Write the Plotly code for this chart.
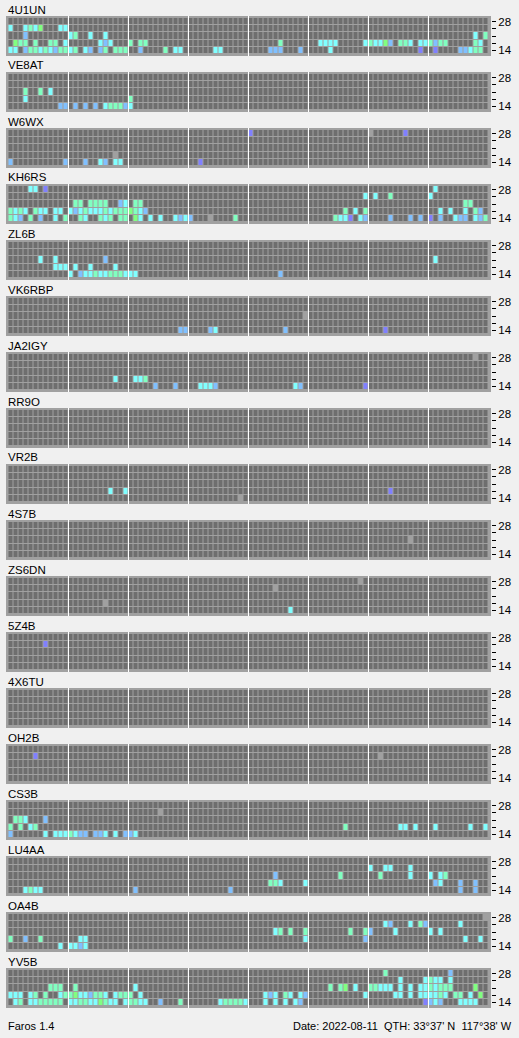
import plotly.graph_objects as go

W, H = 519, 1038

STATIONS = ["4U1UN", "VE8AT", "W6WX", "KH6RS", "ZL6B", "VK6RBP", "JA2IGY", "RR9O", "VR2B",
            "4S7B", "ZS6DN", "5Z4B", "4X6TU", "OH2B", "CS3B", "LU4AA", "OA4B", "YV5B"]
BANDS = [28, 24, 21, 18, 14]          # rows, top to bottom
BAND_TICKS = ["28", "", "", "", "14"]

# one char per 15-min slot, 96 slots a day, written in groups of 12 (3 hours)
# . none  g weak/grey  p violet  b blue  c cyan  a aqua  G green
LEVELS = [".", "g", "p", "b", "c", "a", "G"]
LEVEL_COLORS = ["#6e6e6e", "#a0a0a0", "#8080ff", "#80c0ff", "#80ffff", "#80ffc0", "#80ff80"]

D = "............"

GRID_4U1UN = [
    f"{D} {D} {D} {D} {D} {D} {D} {D}",
    f"c..cacG...cc {D} {D} {D} {D} {D} {D} {D}",
    f"...b........ ca..c..c.... {D} {D} {D} {D} {D} .........c.a",
    f".Gaa.a..aa.c ......cbc... a.aa........ {D} ......a..... ..cccc.....c accGb.aac.cc abaa.....ac.",
    "cc.baacacbaa ca.cb.ba.aaa ..b....a.cc. .....cc..... ....bbb...b. ....c....... ..........p. .p....bbcaa.",
]
GRID_VE8AT = [
    f"{D} {D} {D} {D} {D} {D} {D} {D}",
    f"{D} {D} {D} {D} {D} {D} {D} {D}",
    f"...a..a.c... {D} {D} {D} {D} {D} {D} {D}",
    f"...c........ {D} a........... {D} {D} {D} {D} {D}",
    f"..........bb .b.b.b.caaab c........... {D} {D} {D} {D} {D}",
]
GRID_W6WX = [
    f"{D} {D} {D} {D} p........... {D} g......p.... {D}",
    f"{D} {D} {D} {D} {D} {D} {D} {D}",
    f"{D} {D} {D} {D} {D} {D} {D} {D}",
    f"{D} .........g.. {D} {D} {D} {D} {D} {D}",
    f"b..........b ...b..cb.cc. {D} ..p......... {D} {D} {D} {D}",
]
GRID_KH6RS = [
    f"....cc.p.... {D} {D} {D} {D} {D} {D} .c..........",
    f"{D} {D} {D} {D} {D} ...........c .c..a....... c...........",
    f"{D} .aa.aaaa..bc .aa......... {D} {D} {D} {D} .......aa...",
    f"acac.acc.cc. cbcacccacaaa Gacb........ {D} {D} .......a.c.a {D} ..c.c..c.ab.",
    f"acb.a.b..c.a ..ac..aca.aa .Gc.c.c..cbc b...g....a.. {D} .....accp.cb ....b...b.b. p.b..cbb.cba",
]
GRID_ZL6B = [
    f"{D} {D} {D} {D} {D} {D} {D} {D}",
    f"{D} {D} {D} {D} {D} {D} {D} {D}",
    f"......c..c.. .......b.... {D} {D} {D} {D} {D} .c..........",
    f".........ccc .c..c....c.. {D} {D} {D} {D} {D} {D}",
    f"{D} c.bccaccaaac cc.......... {D} ......b..... {D} {D} {D}",
]
GRID_VK6RBP = [
    f"{D} {D} {D} {D} {D} {D} {D} {D}",
    f"{D} {D} {D} {D} {D} {D} {D} {D}",
    f"{D} {D} {D} {D} ...........g {D} {D} {D}",
    f"{D} {D} {D} {D} {D} {D} {D} {D}",
    f"{D} {D} ..........bb ....bc...... .......b.... {D} ...p........ {D}",
]
GRID_JA2IGY = [
    f"{D} {D} {D} {D} {D} {D} {D} .........g..",
    f"{D} {D} {D} {D} {D} {D} {D} {D}",
    f"{D} {D} {D} {D} {D} {D} {D} {D}",
    f"{D} .........c.. .cca........ {D} {D} {D} {D} {D}",
    f"{D} {D} .....b...b.. ..cccb...... .........cb. ...........p {D} {D}",
]
GRID_RR9O = [
    f"{D} {D} {D} {D} {D} {D} {D} {D}",
    f"{D} {D} {D} {D} {D} {D} {D} {D}",
    f"{D} {D} {D} {D} {D} {D} {D} {D}",
    f"{D} {D} {D} {D} {D} {D} {D} {D}",
    f"{D} {D} {D} {D} {D} {D} {D} {D}",
]
GRID_VR2B = [
    f"{D} {D} {D} {D} {D} {D} {D} {D}",
    f"{D} {D} {D} {D} {D} {D} {D} {D}",
    f"{D} {D} {D} {D} {D} {D} {D} {D}",
    f"{D} ........c..c {D} {D} {D} {D} ....p....... {D}",
    f"{D} {D} {D} ..........g. {D} {D} {D} {D}",
]
GRID_4S7B = [
    f"{D} {D} {D} {D} {D} {D} {D} {D}",
    f"{D} {D} {D} {D} {D} {D} {D} {D}",
    f"{D} {D} {D} {D} {D} {D} ........g... {D}",
    f"{D} {D} {D} {D} {D} {D} {D} {D}",
    f"{D} {D} {D} {D} {D} {D} {D} {D}",
]
GRID_ZS6DN = [
    f"{D} {D} {D} {D} {D} ..........g. {D} {D}",
    f"{D} {D} {D} {D} .....g...... {D} {D} {D}",
    f"{D} {D} {D} {D} {D} {D} {D} {D}",
    f"{D} .......g.... {D} {D} {D} {D} {D} {D}",
    f"{D} {D} {D} {D} ........c... {D} {D} {D}",
]
GRID_5Z4B = [
    f"{D} {D} {D} {D} {D} {D} {D} {D}",
    f".......p.... {D} {D} {D} {D} {D} {D} {D}",
    f"{D} {D} {D} {D} {D} {D} {D} {D}",
    f"{D} {D} {D} {D} {D} {D} {D} {D}",
    f"{D} {D} {D} {D} {D} {D} {D} {D}",
]
GRID_4X6TU = [
    f"{D} {D} {D} {D} {D} {D} {D} {D}",
    f"{D} {D} {D} {D} {D} {D} {D} {D}",
    f"{D} {D} {D} {D} {D} {D} {D} {D}",
    f"{D} {D} {D} {D} {D} {D} {D} {D}",
    f"{D} {D} {D} {D} {D} {D} {D} {D}",
]
GRID_OH2B = [
    f"{D} {D} {D} {D} {D} {D} {D} {D}",
    f".....p...... {D} {D} {D} {D} {D} ..g......... {D}",
    f"{D} {D} {D} {D} {D} {D} {D} {D}",
    f"{D} {D} {D} {D} {D} {D} {D} {D}",
    f"{D} {D} {D} {D} {D} {D} {D} {D}",
]
GRID_CS3B = [
    f"{D} {D} {D} {D} {D} {D} {D} {D}",
    f"{D} {D} ......g..... {D} {D} {D} {D} {D}",
    f".aac...b.... {D} {D} {D} {D} {D} {D} {D}",
    f"a.a.ca...... {D} {D} {D} {D} .......a.... ......cc.c.. .c......c..c",
    f"b......c.ccc acbb.bbc.c.b bc.......... {D} {D} {D} {D} {D}",
]
GRID_LU4AA = [
    f"{D} {D} {D} {D} {D} {D} {D} {D}",
    f"{D} {D} {D} {D} {D} {D} c..cc...c... {D}",
    f"{D} {D} {D} {D} .....b...... ......a..... ..a.....c... c.ca........",
    f"{D} {D} {D} {D} ....aac....c {D} {D} .bc...b..b..",
    f"...cacc..... {D} .b.......... ........b... {D} {D} {D} ......b..b..",
]
GRID_OA4B = [
    f"{D} {D} {D} {D} {D} {D} {D} ...........g",
    f"{D} {D} {D} {D} {D} {D} ...cb...c.ab ......c.....",
    f"{D} {D} {D} {D} .....ca.a..a ........a..a b....c...... c.c.........",
    f"a..b..a..... ..cc........ {D} {D} ...........c ...........b {D} .......c..c.",
    f"..........c. ccbc........ {D} {D} {D} {D} {D} {D}",
]
GRID_YV5B = [
    f"{D} {D} {D} {D} {D} {D} ...a........ ....b.......",
    f"{D} {D} {D} {D} {D} {D} ......c....c acc.c.......",
    f"........aaa. .a.......... .c.......... {D} {D} ....a.aG.c.. aaccc.c.c.cc acaaa....G..",
    "ccc.ca.a..ca aGccbaac.caa a.c......... " + D + " ...cbc.ac.cb ...........c .....cc.c.cc ccac.aa.c.G.",
    f".ca.ccaaaaa. ccaaccGacc.c aacc..b...a. ......caaaac ...c.c.c.cb. {D} ...........p bcb...cccc..",
]

GRIDS = [GRID_4U1UN, GRID_VE8AT, GRID_W6WX, GRID_KH6RS, GRID_ZL6B, GRID_VK6RBP, GRID_JA2IGY,
         GRID_RR9O, GRID_VR2B, GRID_4S7B, GRID_ZS6DN, GRID_5Z4B, GRID_4X6TU, GRID_OH2B,
         GRID_CS3B, GRID_LU4AA, GRID_OA4B, GRID_YV5B]

FOOTER_LEFT = "Faros 1.4"
FOOTER_DATE = "Date: 2022-08-11"
FOOTER_QTH = "QTH: 33°37' N\u00a0\u00a0117°38' W"

# ── layout constants (pixels) ──
BG = "#f0f0f0"
FRAME = "#a0a0a0"
FONT = dict(family="Liberation Sans, Arial, sans-serif", size=11.5, color="#000000")
FOOT_FONT = dict(family="Liberation Sans, Arial, sans-serif", size=11, color="#000000")
PANEL_X0, PANEL_X1 = 6, 491
PANEL_TOP0, PANEL_PITCH, PANEL_H = 16, 56, 40
ROW_PITCH = 7.2
N_SLOTS = 96

# discrete colour scale, one band per level
n = len(LEVEL_COLORS)
colorscale = []
for i, c in enumerate(LEVEL_COLORS):
    colorscale += [[i / n, c], [(i + 1) / n, c]]

ypad = (PANEL_H / ROW_PITCH - len(BANDS)) / 2

fig = go.Figure()
layout = dict(
    width=W, height=H,
    margin=dict(l=0, r=0, t=0, b=0),
    paper_bgcolor=BG,
    plot_bgcolor=FRAME,
    font=FONT,
    showlegend=False,
)
shapes, annotations = [], []

for k, (name, grid) in enumerate(zip(STATIONS, GRIDS)):
    rows = [r.replace(" ", "") for r in grid]
    for r in rows:
        assert len(r) == N_SLOTS, (name, len(r))
    z = [[LEVELS.index(ch) for ch in row] for row in reversed(rows)]  # y=0 is the 14 MHz row

    sfx = "" if k == 0 else str(k + 1)
    fig.add_trace(go.Heatmap(
        z=z,
        x=list(range(N_SLOTS)),
        y=list(range(len(BANDS))),
        xaxis="x" + sfx,
        yaxis="y" + sfx,
        colorscale=colorscale,
        zmin=-0.5, zmax=n - 0.5,
        showscale=False,
        xgap=1, ygap=1,
        hoverinfo="skip",
    ))

    top = PANEL_TOP0 + PANEL_PITCH * k
    layout["xaxis" + sfx] = dict(
        domain=[PANEL_X0 / W, PANEL_X1 / W],
        range=[-1, N_SLOTS],
        anchor="y" + sfx,
        visible=False,
        fixedrange=True,
    )
    layout["yaxis" + sfx] = dict(
        domain=[1 - (top + PANEL_H) / H, 1 - top / H],
        range=[-0.5 - ypad, len(BANDS) - 0.5 + ypad],
        anchor="x" + sfx,
        side="right",
        tickvals=list(range(len(BANDS))),
        ticktext=list(reversed(BAND_TICKS)),
        ticks="outside", ticklen=4, tickwidth=1, tickcolor="#000000",
        tickfont=FONT,
        showgrid=False, zeroline=False, showline=False,
        fixedrange=True,
    )

    # white 3-hour separators
    for h in range(12, N_SLOTS, 12):
        shapes.append(dict(
            type="line", xref="x" + sfx, yref="y" + sfx + " domain",
            x0=h - 0.5, x1=h - 0.5, y0=0, y1=1,
            line=dict(color="#ffffff", width=1), layer="above",
        ))

    annotations.append(dict(
        text=name, x=5.5 / W, y=1 - (top - 6.5) / H,
        xref="paper", yref="paper", xanchor="left", yanchor="middle",
        showarrow=False, font=FONT,
    ))

foot_y = 1 - 1026 / H
annotations += [
    dict(text=FOOTER_LEFT, x=5.5 / W, y=foot_y, xanchor="left"),
    dict(text=FOOTER_DATE, x=291 / W, y=foot_y, xanchor="left"),
    dict(text=FOOTER_QTH, x=514 / W, y=foot_y, xanchor="right"),
]
for a in annotations[-3:]:
    a.update(xref="paper", yref="paper", yanchor="middle", showarrow=False, font=FOOT_FONT)

layout["shapes"] = shapes
layout["annotations"] = annotations
fig.update_layout(**layout)

fig.write_html(
    "out.html",
    config={"displayModeBar": False},
    post_script="document.body.style.margin='0';document.body.style.overflow='hidden';",
)
